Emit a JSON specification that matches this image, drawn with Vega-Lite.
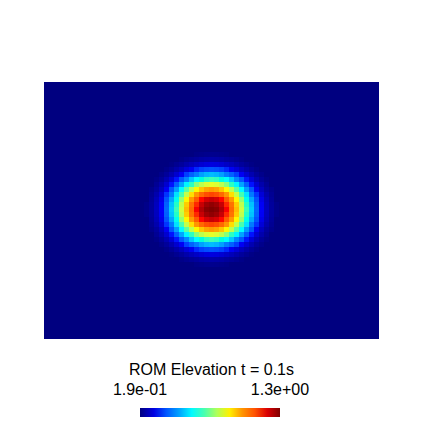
{
"$schema": "https://vega.github.io/schema/vega-lite/v6.json",
"width": 335, "height": 257,
"autosize": {"type": "none"},
"padding": {"left": 44, "top": 82, "right": 44, "bottom": 83},
"background": "white",
"title": {"text": "ROM Elevation t = 0.1s", "orient": "top", "anchor": "middle", "frame": "group", "baseline": "alphabetic", "offset": -309, "font": "Liberation Sans", "fontSize": 16, "fontWeight": "normal", "color": "black"},
"config": {"view": {"fill": "#000080", "stroke": null}},
"data": {"values": [
{"x":-15,"y":55,"v":0.198},{"x":-10,"y":55,"v":0.202},{"x":-5,"y":55,"v":0.205},{"x":0,"y":55,"v":0.206},{"x":5,"y":55,"v":0.205},{"x":10,"y":55,"v":0.202},{"x":15,"y":55,"v":0.198},
{"x":-15,"y":-55,"v":0.198},{"x":-10,"y":-55,"v":0.202},{"x":-5,"y":-55,"v":0.205},{"x":0,"y":-55,"v":0.206},{"x":5,"y":-55,"v":0.205},{"x":10,"y":-55,"v":0.202},{"x":15,"y":-55,"v":0.198},
{"x":-30,"y":50,"v":0.199},{"x":-25,"y":50,"v":0.209},{"x":-20,"y":50,"v":0.216},{"x":-15,"y":50,"v":0.223},{"x":-10,"y":50,"v":0.231},{"x":-5,"y":50,"v":0.236},{"x":0,"y":50,"v":0.238},{"x":5,"y":50,"v":0.236},{"x":10,"y":50,"v":0.231},{"x":15,"y":50,"v":0.223},{"x":20,"y":50,"v":0.216},{"x":25,"y":50,"v":0.209},{"x":30,"y":50,"v":0.199},
{"x":-30,"y":-50,"v":0.199},{"x":-25,"y":-50,"v":0.209},{"x":-20,"y":-50,"v":0.216},{"x":-15,"y":-50,"v":0.223},{"x":-10,"y":-50,"v":0.231},{"x":-5,"y":-50,"v":0.236},{"x":0,"y":-50,"v":0.238},{"x":5,"y":-50,"v":0.236},{"x":10,"y":-50,"v":0.231},{"x":15,"y":-50,"v":0.223},{"x":20,"y":-50,"v":0.216},{"x":25,"y":-50,"v":0.209},{"x":30,"y":-50,"v":0.199},
{"x":-40,"y":45,"v":0.197},{"x":-35,"y":45,"v":0.210},{"x":-30,"y":45,"v":0.222},{"x":-25,"y":45,"v":0.239},{"x":-20,"y":45,"v":0.254},{"x":-15,"y":45,"v":0.269},{"x":-10,"y":45,"v":0.283},{"x":-5,"y":45,"v":0.292},{"x":0,"y":45,"v":0.295},{"x":5,"y":45,"v":0.292},{"x":10,"y":45,"v":0.283},{"x":15,"y":45,"v":0.269},{"x":20,"y":45,"v":0.254},{"x":25,"y":45,"v":0.239},{"x":30,"y":45,"v":0.222},{"x":35,"y":45,"v":0.210},{"x":40,"y":45,"v":0.197},
{"x":-40,"y":-45,"v":0.197},{"x":-35,"y":-45,"v":0.210},{"x":-30,"y":-45,"v":0.222},{"x":-25,"y":-45,"v":0.239},{"x":-20,"y":-45,"v":0.254},{"x":-15,"y":-45,"v":0.269},{"x":-10,"y":-45,"v":0.283},{"x":-5,"y":-45,"v":0.292},{"x":0,"y":-45,"v":0.295},{"x":5,"y":-45,"v":0.292},{"x":10,"y":-45,"v":0.283},{"x":15,"y":-45,"v":0.269},{"x":20,"y":-45,"v":0.254},{"x":25,"y":-45,"v":0.239},{"x":30,"y":-45,"v":0.222},{"x":35,"y":-45,"v":0.210},{"x":40,"y":-45,"v":0.197},
{"x":-45,"y":40,"v":0.202},{"x":-40,"y":40,"v":0.217},{"x":-35,"y":40,"v":0.237},{"x":-30,"y":40,"v":0.259},{"x":-25,"y":40,"v":0.289},{"x":-20,"y":40,"v":0.315},{"x":-15,"y":40,"v":0.346},{"x":-10,"y":40,"v":0.372},{"x":-5,"y":40,"v":0.387},{"x":0,"y":40,"v":0.393},{"x":5,"y":40,"v":0.387},{"x":10,"y":40,"v":0.372},{"x":15,"y":40,"v":0.346},{"x":20,"y":40,"v":0.315},{"x":25,"y":40,"v":0.289},{"x":30,"y":40,"v":0.259},{"x":35,"y":40,"v":0.237},{"x":40,"y":40,"v":0.217},{"x":45,"y":40,"v":0.202},
{"x":-45,"y":-40,"v":0.202},{"x":-40,"y":-40,"v":0.217},{"x":-35,"y":-40,"v":0.237},{"x":-30,"y":-40,"v":0.259},{"x":-25,"y":-40,"v":0.289},{"x":-20,"y":-40,"v":0.315},{"x":-15,"y":-40,"v":0.346},{"x":-10,"y":-40,"v":0.372},{"x":-5,"y":-40,"v":0.387},{"x":0,"y":-40,"v":0.393},{"x":5,"y":-40,"v":0.387},{"x":10,"y":-40,"v":0.372},{"x":15,"y":-40,"v":0.346},{"x":20,"y":-40,"v":0.315},{"x":25,"y":-40,"v":0.289},{"x":30,"y":-40,"v":0.259},{"x":35,"y":-40,"v":0.237},{"x":40,"y":-40,"v":0.217},{"x":45,"y":-40,"v":0.202},
{"x":-50,"y":35,"v":0.203},{"x":-45,"y":35,"v":0.220},{"x":-40,"y":35,"v":0.246},{"x":-35,"y":35,"v":0.278},{"x":-30,"y":35,"v":0.316},{"x":-25,"y":35,"v":0.368},{"x":-20,"y":35,"v":0.416},{"x":-15,"y":35,"v":0.463},{"x":-10,"y":35,"v":0.498},{"x":-5,"y":35,"v":0.520},{"x":0,"y":35,"v":0.528},{"x":5,"y":35,"v":0.520},{"x":10,"y":35,"v":0.498},{"x":15,"y":35,"v":0.463},{"x":20,"y":35,"v":0.416},{"x":25,"y":35,"v":0.368},{"x":30,"y":35,"v":0.316},{"x":35,"y":35,"v":0.278},{"x":40,"y":35,"v":0.246},{"x":45,"y":35,"v":0.220},{"x":50,"y":35,"v":0.203},
{"x":-50,"y":-35,"v":0.203},{"x":-45,"y":-35,"v":0.220},{"x":-40,"y":-35,"v":0.246},{"x":-35,"y":-35,"v":0.278},{"x":-30,"y":-35,"v":0.316},{"x":-25,"y":-35,"v":0.368},{"x":-20,"y":-35,"v":0.416},{"x":-15,"y":-35,"v":0.463},{"x":-10,"y":-35,"v":0.498},{"x":-5,"y":-35,"v":0.520},{"x":0,"y":-35,"v":0.528},{"x":5,"y":-35,"v":0.520},{"x":10,"y":-35,"v":0.498},{"x":15,"y":-35,"v":0.463},{"x":20,"y":-35,"v":0.416},{"x":25,"y":-35,"v":0.368},{"x":30,"y":-35,"v":0.316},{"x":35,"y":-35,"v":0.278},{"x":40,"y":-35,"v":0.246},{"x":45,"y":-35,"v":0.220},{"x":50,"y":-35,"v":0.203},
{"x":-55,"y":30,"v":0.200},{"x":-50,"y":30,"v":0.219},{"x":-45,"y":30,"v":0.247},{"x":-40,"y":30,"v":0.286},{"x":-35,"y":30,"v":0.335},{"x":-30,"y":30,"v":0.403},{"x":-25,"y":30,"v":0.474},{"x":-20,"y":30,"v":0.540},{"x":-15,"y":30,"v":0.604},{"x":-10,"y":30,"v":0.653},{"x":-5,"y":30,"v":0.683},{"x":0,"y":30,"v":0.693},{"x":5,"y":30,"v":0.683},{"x":10,"y":30,"v":0.653},{"x":15,"y":30,"v":0.604},{"x":20,"y":30,"v":0.540},{"x":25,"y":30,"v":0.474},{"x":30,"y":30,"v":0.403},{"x":35,"y":30,"v":0.335},{"x":40,"y":30,"v":0.286},{"x":45,"y":30,"v":0.247},{"x":50,"y":30,"v":0.219},{"x":55,"y":30,"v":0.200},
{"x":-55,"y":-30,"v":0.200},{"x":-50,"y":-30,"v":0.219},{"x":-45,"y":-30,"v":0.247},{"x":-40,"y":-30,"v":0.286},{"x":-35,"y":-30,"v":0.335},{"x":-30,"y":-30,"v":0.403},{"x":-25,"y":-30,"v":0.474},{"x":-20,"y":-30,"v":0.540},{"x":-15,"y":-30,"v":0.604},{"x":-10,"y":-30,"v":0.653},{"x":-5,"y":-30,"v":0.683},{"x":0,"y":-30,"v":0.693},{"x":5,"y":-30,"v":0.683},{"x":10,"y":-30,"v":0.653},{"x":15,"y":-30,"v":0.604},{"x":20,"y":-30,"v":0.540},{"x":25,"y":-30,"v":0.474},{"x":30,"y":-30,"v":0.403},{"x":35,"y":-30,"v":0.335},{"x":40,"y":-30,"v":0.286},{"x":45,"y":-30,"v":0.247},{"x":50,"y":-30,"v":0.219},{"x":55,"y":-30,"v":0.200},
{"x":-55,"y":25,"v":0.213},{"x":-50,"y":25,"v":0.240},{"x":-45,"y":25,"v":0.279},{"x":-40,"y":25,"v":0.334},{"x":-35,"y":25,"v":0.413},{"x":-30,"y":25,"v":0.502},{"x":-25,"y":25,"v":0.593},{"x":-20,"y":25,"v":0.682},{"x":-15,"y":25,"v":0.756},{"x":-10,"y":25,"v":0.813},{"x":-5,"y":25,"v":0.846},{"x":0,"y":25,"v":0.857},{"x":5,"y":25,"v":0.846},{"x":10,"y":25,"v":0.813},{"x":15,"y":25,"v":0.756},{"x":20,"y":25,"v":0.682},{"x":25,"y":25,"v":0.593},{"x":30,"y":25,"v":0.502},{"x":35,"y":25,"v":0.413},{"x":40,"y":25,"v":0.334},{"x":45,"y":25,"v":0.279},{"x":50,"y":25,"v":0.240},{"x":55,"y":25,"v":0.213},
{"x":-55,"y":-25,"v":0.213},{"x":-50,"y":-25,"v":0.240},{"x":-45,"y":-25,"v":0.279},{"x":-40,"y":-25,"v":0.334},{"x":-35,"y":-25,"v":0.413},{"x":-30,"y":-25,"v":0.502},{"x":-25,"y":-25,"v":0.593},{"x":-20,"y":-25,"v":0.682},{"x":-15,"y":-25,"v":0.756},{"x":-10,"y":-25,"v":0.813},{"x":-5,"y":-25,"v":0.846},{"x":0,"y":-25,"v":0.857},{"x":5,"y":-25,"v":0.846},{"x":10,"y":-25,"v":0.813},{"x":15,"y":-25,"v":0.756},{"x":20,"y":-25,"v":0.682},{"x":25,"y":-25,"v":0.593},{"x":30,"y":-25,"v":0.502},{"x":35,"y":-25,"v":0.413},{"x":40,"y":-25,"v":0.334},{"x":45,"y":-25,"v":0.279},{"x":50,"y":-25,"v":0.240},{"x":55,"y":-25,"v":0.213},
{"x":-60,"y":20,"v":0.204},{"x":-55,"y":20,"v":0.225},{"x":-50,"y":20,"v":0.261},{"x":-45,"y":20,"v":0.315},{"x":-40,"y":20,"v":0.398},{"x":-35,"y":20,"v":0.496},{"x":-30,"y":20,"v":0.604},{"x":-25,"y":20,"v":0.715},{"x":-20,"y":20,"v":0.815},{"x":-15,"y":20,"v":0.891},{"x":-10,"y":20,"v":0.948},{"x":-5,"y":20,"v":0.983},{"x":0,"y":20,"v":0.995},{"x":5,"y":20,"v":0.983},{"x":10,"y":20,"v":0.948},{"x":15,"y":20,"v":0.891},{"x":20,"y":20,"v":0.815},{"x":25,"y":20,"v":0.715},{"x":30,"y":20,"v":0.604},{"x":35,"y":20,"v":0.496},{"x":40,"y":20,"v":0.398},{"x":45,"y":20,"v":0.315},{"x":50,"y":20,"v":0.261},{"x":55,"y":20,"v":0.225},{"x":60,"y":20,"v":0.204},
{"x":-60,"y":-20,"v":0.204},{"x":-55,"y":-20,"v":0.225},{"x":-50,"y":-20,"v":0.261},{"x":-45,"y":-20,"v":0.315},{"x":-40,"y":-20,"v":0.398},{"x":-35,"y":-20,"v":0.496},{"x":-30,"y":-20,"v":0.604},{"x":-25,"y":-20,"v":0.715},{"x":-20,"y":-20,"v":0.815},{"x":-15,"y":-20,"v":0.891},{"x":-10,"y":-20,"v":0.948},{"x":-5,"y":-20,"v":0.983},{"x":0,"y":-20,"v":0.995},{"x":5,"y":-20,"v":0.983},{"x":10,"y":-20,"v":0.948},{"x":15,"y":-20,"v":0.891},{"x":20,"y":-20,"v":0.815},{"x":25,"y":-20,"v":0.715},{"x":30,"y":-20,"v":0.604},{"x":35,"y":-20,"v":0.496},{"x":40,"y":-20,"v":0.398},{"x":45,"y":-20,"v":0.315},{"x":50,"y":-20,"v":0.261},{"x":55,"y":-20,"v":0.225},{"x":60,"y":-20,"v":0.204},
{"x":-60,"y":15,"v":0.212},{"x":-55,"y":15,"v":0.241},{"x":-50,"y":15,"v":0.287},{"x":-45,"y":15,"v":0.358},{"x":-40,"y":15,"v":0.456},{"x":-35,"y":15,"v":0.571},{"x":-30,"y":15,"v":0.699},{"x":-25,"y":15,"v":0.820},{"x":-20,"y":15,"v":0.919},{"x":-15,"y":15,"v":1.000},{"x":-10,"y":15,"v":1.065},{"x":-5,"y":15,"v":1.104},{"x":0,"y":15,"v":1.118},{"x":5,"y":15,"v":1.104},{"x":10,"y":15,"v":1.065},{"x":15,"y":15,"v":1.000},{"x":20,"y":15,"v":0.919},{"x":25,"y":15,"v":0.820},{"x":30,"y":15,"v":0.699},{"x":35,"y":15,"v":0.571},{"x":40,"y":15,"v":0.456},{"x":45,"y":15,"v":0.358},{"x":50,"y":15,"v":0.287},{"x":55,"y":15,"v":0.241},{"x":60,"y":15,"v":0.212},
{"x":-60,"y":-15,"v":0.212},{"x":-55,"y":-15,"v":0.241},{"x":-50,"y":-15,"v":0.287},{"x":-45,"y":-15,"v":0.358},{"x":-40,"y":-15,"v":0.456},{"x":-35,"y":-15,"v":0.571},{"x":-30,"y":-15,"v":0.699},{"x":-25,"y":-15,"v":0.820},{"x":-20,"y":-15,"v":0.919},{"x":-15,"y":-15,"v":1.000},{"x":-10,"y":-15,"v":1.065},{"x":-5,"y":-15,"v":1.104},{"x":0,"y":-15,"v":1.118},{"x":5,"y":-15,"v":1.104},{"x":10,"y":-15,"v":1.065},{"x":15,"y":-15,"v":1.000},{"x":20,"y":-15,"v":0.919},{"x":25,"y":-15,"v":0.820},{"x":30,"y":-15,"v":0.699},{"x":35,"y":-15,"v":0.571},{"x":40,"y":-15,"v":0.456},{"x":45,"y":-15,"v":0.358},{"x":50,"y":-15,"v":0.287},{"x":55,"y":-15,"v":0.241},{"x":60,"y":-15,"v":0.212},
{"x":-60,"y":10,"v":0.218},{"x":-55,"y":10,"v":0.253},{"x":-50,"y":10,"v":0.307},{"x":-45,"y":10,"v":0.393},{"x":-40,"y":10,"v":0.505},{"x":-35,"y":10,"v":0.635},{"x":-30,"y":10,"v":0.771},{"x":-25,"y":10,"v":0.893},{"x":-20,"y":10,"v":0.997},{"x":-15,"y":10,"v":1.087},{"x":-10,"y":10,"v":1.160},{"x":-5,"y":10,"v":1.204},{"x":0,"y":10,"v":1.220},{"x":5,"y":10,"v":1.204},{"x":10,"y":10,"v":1.160},{"x":15,"y":10,"v":1.087},{"x":20,"y":10,"v":0.997},{"x":25,"y":10,"v":0.893},{"x":30,"y":10,"v":0.771},{"x":35,"y":10,"v":0.635},{"x":40,"y":10,"v":0.505},{"x":45,"y":10,"v":0.393},{"x":50,"y":10,"v":0.307},{"x":55,"y":10,"v":0.253},{"x":60,"y":10,"v":0.218},
{"x":-60,"y":-10,"v":0.218},{"x":-55,"y":-10,"v":0.253},{"x":-50,"y":-10,"v":0.307},{"x":-45,"y":-10,"v":0.393},{"x":-40,"y":-10,"v":0.505},{"x":-35,"y":-10,"v":0.635},{"x":-30,"y":-10,"v":0.771},{"x":-25,"y":-10,"v":0.893},{"x":-20,"y":-10,"v":0.997},{"x":-15,"y":-10,"v":1.087},{"x":-10,"y":-10,"v":1.160},{"x":-5,"y":-10,"v":1.204},{"x":0,"y":-10,"v":1.220},{"x":5,"y":-10,"v":1.204},{"x":10,"y":-10,"v":1.160},{"x":15,"y":-10,"v":1.087},{"x":20,"y":-10,"v":0.997},{"x":25,"y":-10,"v":0.893},{"x":30,"y":-10,"v":0.771},{"x":35,"y":-10,"v":0.635},{"x":40,"y":-10,"v":0.505},{"x":45,"y":-10,"v":0.393},{"x":50,"y":-10,"v":0.307},{"x":55,"y":-10,"v":0.253},{"x":60,"y":-10,"v":0.218},
{"x":-65,"y":5,"v":0.200},{"x":-60,"y":5,"v":0.222},{"x":-55,"y":5,"v":0.260},{"x":-50,"y":5,"v":0.319},{"x":-45,"y":5,"v":0.416},{"x":-40,"y":5,"v":0.535},{"x":-35,"y":5,"v":0.676},{"x":-30,"y":5,"v":0.818},{"x":-25,"y":5,"v":0.940},{"x":-20,"y":5,"v":1.049},{"x":-15,"y":5,"v":1.145},{"x":-10,"y":5,"v":1.221},{"x":-5,"y":5,"v":1.266},{"x":0,"y":5,"v":1.282},{"x":5,"y":5,"v":1.266},{"x":10,"y":5,"v":1.221},{"x":15,"y":5,"v":1.145},{"x":20,"y":5,"v":1.049},{"x":25,"y":5,"v":0.940},{"x":30,"y":5,"v":0.818},{"x":35,"y":5,"v":0.676},{"x":40,"y":5,"v":0.535},{"x":45,"y":5,"v":0.416},{"x":50,"y":5,"v":0.319},{"x":55,"y":5,"v":0.260},{"x":60,"y":5,"v":0.222},{"x":65,"y":5,"v":0.200},
{"x":-65,"y":-5,"v":0.200},{"x":-60,"y":-5,"v":0.222},{"x":-55,"y":-5,"v":0.260},{"x":-50,"y":-5,"v":0.319},{"x":-45,"y":-5,"v":0.416},{"x":-40,"y":-5,"v":0.535},{"x":-35,"y":-5,"v":0.676},{"x":-30,"y":-5,"v":0.818},{"x":-25,"y":-5,"v":0.940},{"x":-20,"y":-5,"v":1.049},{"x":-15,"y":-5,"v":1.145},{"x":-10,"y":-5,"v":1.221},{"x":-5,"y":-5,"v":1.266},{"x":0,"y":-5,"v":1.282},{"x":5,"y":-5,"v":1.266},{"x":10,"y":-5,"v":1.221},{"x":15,"y":-5,"v":1.145},{"x":20,"y":-5,"v":1.049},{"x":25,"y":-5,"v":0.940},{"x":30,"y":-5,"v":0.818},{"x":35,"y":-5,"v":0.676},{"x":40,"y":-5,"v":0.535},{"x":45,"y":-5,"v":0.416},{"x":50,"y":-5,"v":0.319},{"x":55,"y":-5,"v":0.260},{"x":60,"y":-5,"v":0.222},{"x":65,"y":-5,"v":0.200},
{"x":-65,"y":0,"v":0.201},{"x":-60,"y":0,"v":0.223},{"x":-55,"y":0,"v":0.262},{"x":-50,"y":0,"v":0.323},{"x":-45,"y":0,"v":0.423},{"x":-40,"y":0,"v":0.545},{"x":-35,"y":0,"v":0.690},{"x":-30,"y":0,"v":0.834},{"x":-25,"y":0,"v":0.956},{"x":-20,"y":0,"v":1.067},{"x":-15,"y":0,"v":1.167},{"x":-10,"y":0,"v":1.245},{"x":-5,"y":0,"v":1.289},{"x":0,"y":0,"v":1.300},{"x":5,"y":0,"v":1.289},{"x":10,"y":0,"v":1.245},{"x":15,"y":0,"v":1.167},{"x":20,"y":0,"v":1.067},{"x":25,"y":0,"v":0.956},{"x":30,"y":0,"v":0.834},{"x":35,"y":0,"v":0.690},{"x":40,"y":0,"v":0.545},{"x":45,"y":0,"v":0.423},{"x":50,"y":0,"v":0.323},{"x":55,"y":0,"v":0.262},{"x":60,"y":0,"v":0.223},{"x":65,"y":0,"v":0.201}
]},
"mark": {"type": "rect", "width": 5, "height": 5},
"encoding": {
  "x": {"field": "x", "type": "quantitative", "scale": {"domain": [-167.5, 167.5], "nice": false, "zero": false}, "axis": null},
  "y": {"field": "y", "type": "quantitative", "scale": {"domain": [-129.5, 127.5], "nice": false, "zero": false}, "axis": null},
  "color": {"field": "v", "type": "quantitative",
    "scale": {"domain": [0.19, 0.32875, 0.4675, 0.60625, 0.745, 0.88375, 1.0225, 1.16125, 1.3], "range": ["#000080", "#0000ff", "#0080ff", "#00ffff", "#80ff80", "#ffff00", "#ff8000", "#ff0000", "#800000"], "clamp": true},
    "legend": {"orient": "none", "legendX": 96, "legendY": 326, "direction": "horizontal", "title": null, "padding": 0,
      "gradientLength": 140, "gradientThickness": 9, "gradientStrokeWidth": 0,
      "values": [0.1900001, 1.2999999],
      "labelExpr": "replace(replace(format(datum.value, '.1e'), 'e-', 'e-0'), 'e+', 'e+0')",
      "labelFont": "Liberation Sans", "labelFontSize": 16, "labelColor": "black", "labelOffset": -35}
  }
}
}
